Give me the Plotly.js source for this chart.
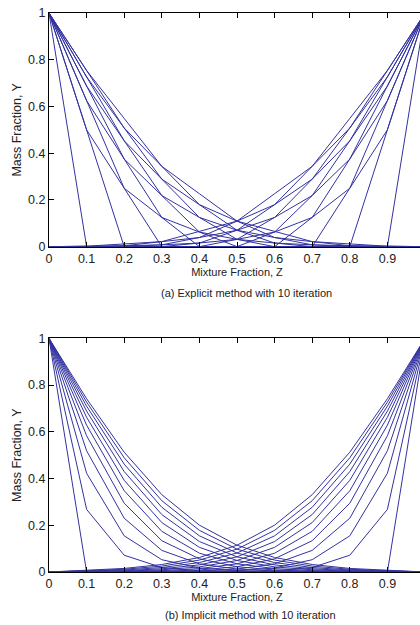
<!DOCTYPE html>
<html>
<head>
<meta charset="utf-8">
<script src="https://cdn.plot.ly/plotly-3.0.1.min.js"></script>
<style>
html,body{margin:0;padding:0;overflow:hidden;background:#fff;}
#chart{width:439px;height:625px;}
</style>
</head>
<body>
<div id="chart"></div>
<script>
// Mixture fraction grid
var mixtureFraction = [0, 0.1, 0.2, 0.3, 0.4, 0.5, 0.6, 0.7, 0.8, 0.9, 1];

// (a) Explicit method: profiles at iterations 0..10, fuel side (Y=1 at Z=0)
var explicitLeft = [
  [1, 0, 0, 0, 0, 0, 0, 0, 0, 0, 0],
  [1, 0.5, 0, 0, 0, 0, 0, 0, 0, 0, 0],
  [1, 0.5, 0.25, 0, 0, 0, 0, 0, 0, 0, 0],
  [1, 0.625, 0.25, 0.125, 0, 0, 0, 0, 0, 0, 0],
  [1, 0.625, 0.375, 0.125, 0.0625, 0, 0, 0, 0, 0, 0],
  [1, 0.6875, 0.375, 0.2188, 0.0625, 0.0313, 0, 0, 0, 0, 0],
  [1, 0.6875, 0.4531, 0.2188, 0.125, 0.0313, 0.0156, 0, 0, 0, 0],
  [1, 0.7266, 0.4531, 0.2891, 0.125, 0.0703, 0.0156, 0.0078, 0, 0, 0],
  [1, 0.7266, 0.5078, 0.2891, 0.1797, 0.0703, 0.0391, 0.0078, 0.0039, 0, 0],
  [1, 0.7539, 0.5078, 0.3438, 0.1797, 0.1094, 0.0391, 0.0215, 0.0039, 0.002, 0],
  [1, 0.7539, 0.5488, 0.3438, 0.2266, 0.1094, 0.0654, 0.0215, 0.0117, 0.002, 0]
];
// (a) Explicit method: oxidiser side (Y=1 at Z=1)
var explicitRight = [
  [0, 0, 0, 0, 0, 0, 0, 0, 0, 0, 1],
  [0, 0, 0, 0, 0, 0, 0, 0, 0, 0.5, 1],
  [0, 0, 0, 0, 0, 0, 0, 0, 0.25, 0.5, 1],
  [0, 0, 0, 0, 0, 0, 0, 0.125, 0.25, 0.625, 1],
  [0, 0, 0, 0, 0, 0, 0.0625, 0.125, 0.375, 0.625, 1],
  [0, 0, 0, 0, 0, 0.0313, 0.0625, 0.2188, 0.375, 0.6875, 1],
  [0, 0, 0, 0, 0.0156, 0.0313, 0.125, 0.2188, 0.4531, 0.6875, 1],
  [0, 0, 0, 0.0078, 0.0156, 0.0703, 0.125, 0.2891, 0.4531, 0.7266, 1],
  [0, 0, 0.0039, 0.0078, 0.0391, 0.0703, 0.1797, 0.2891, 0.5078, 0.7266, 1],
  [0, 0.002, 0.0039, 0.0215, 0.0391, 0.1094, 0.1797, 0.3438, 0.5078, 0.7539, 1],
  [0, 0.002, 0.0117, 0.0215, 0.0654, 0.1094, 0.2266, 0.3438, 0.5488, 0.7539, 1]
];

// (b) Implicit method: fuel side
var implicitLeft = [
  [1, 0, 0, 0, 0, 0, 0, 0, 0, 0, 0],
  [1, 0.2679, 0.0718, 0.0192, 0.0052, 0.0014, 0.0004, 0.0001, 0, 0, 0],
  [1, 0.4227, 0.1547, 0.0526, 0.0171, 0.0054, 0.0017, 0.0005, 0.0001, 0, 0],
  [1, 0.5189, 0.2302, 0.0925, 0.0348, 0.0125, 0.0043, 0.0014, 0.0005, 0.0001, 0],
  [1, 0.5830, 0.2944, 0.1340, 0.0565, 0.0225, 0.0086, 0.0031, 0.0011, 0.0003, 0],
  [1, 0.6285, 0.3478, 0.1741, 0.0805, 0.0350, 0.0145, 0.0057, 0.0022, 0.0007, 0],
  [1, 0.6623, 0.3924, 0.2115, 0.1055, 0.0493, 0.0219, 0.0093, 0.0037, 0.0013, 0],
  [1, 0.6886, 0.4298, 0.2458, 0.1304, 0.0649, 0.0306, 0.0137, 0.0058, 0.0021, 0],
  [1, 0.7097, 0.4616, 0.2770, 0.1548, 0.0812, 0.0404, 0.0191, 0.0085, 0.0032, 0],
  [1, 0.7271, 0.4889, 0.3052, 0.1782, 0.0979, 0.0510, 0.0252, 0.0117, 0.0045, 0],
  [1, 0.7417, 0.5126, 0.3309, 0.2005, 0.1146, 0.0621, 0.0320, 0.0153, 0.0061, 0]
];
// (b) Implicit method: oxidiser side
var implicitRight = [
  [0, 0, 0, 0, 0, 0, 0, 0, 0, 0, 1],
  [0, 0, 0, 0.0001, 0.0004, 0.0014, 0.0052, 0.0192, 0.0718, 0.2679, 1],
  [0, 0, 0.0001, 0.0005, 0.0017, 0.0054, 0.0171, 0.0526, 0.1547, 0.4227, 1],
  [0, 0.0001, 0.0005, 0.0014, 0.0043, 0.0125, 0.0348, 0.0925, 0.2302, 0.5189, 1],
  [0, 0.0003, 0.0011, 0.0031, 0.0086, 0.0225, 0.0565, 0.1340, 0.2944, 0.5830, 1],
  [0, 0.0007, 0.0022, 0.0057, 0.0145, 0.0350, 0.0805, 0.1741, 0.3478, 0.6285, 1],
  [0, 0.0013, 0.0037, 0.0093, 0.0219, 0.0493, 0.1055, 0.2115, 0.3924, 0.6623, 1],
  [0, 0.0021, 0.0058, 0.0137, 0.0306, 0.0649, 0.1304, 0.2458, 0.4298, 0.6886, 1],
  [0, 0.0032, 0.0085, 0.0191, 0.0404, 0.0812, 0.1548, 0.2770, 0.4616, 0.7097, 1],
  [0, 0.0045, 0.0117, 0.0252, 0.0510, 0.0979, 0.1782, 0.3052, 0.4889, 0.7271, 1],
  [0, 0.0061, 0.0153, 0.0320, 0.0621, 0.1146, 0.2005, 0.3309, 0.5126, 0.7417, 1]
];

var xTickVals = [0, 0.1, 0.2, 0.3, 0.4, 0.5, 0.6, 0.7, 0.8, 0.9];
var yTickVals = [0, 0.2, 0.4, 0.6, 0.8, 1];
var xTitle = 'Mixture Fraction, Z';
var yTitle = 'Mass Fraction, Y';
var captionA = '(a) Explicit method with 10 iteration';
var captionB = '(b) Implicit method with 10 iteration';

var lineColor = 'rgb(50,50,160)';
var traces = [];
function addFamily(family, xa, ya) {
  family.forEach(function (ys) {
    traces.push({
      x: mixtureFraction, y: ys, xaxis: xa, yaxis: ya,
      type: 'scatter', mode: 'lines',
      line: {color: lineColor, width: 1},
      hoverinfo: 'skip', showlegend: false
    });
  });
}
addFamily(explicitLeft, 'x', 'y');
addFamily(explicitRight, 'x', 'y');
addFamily(implicitLeft, 'x2', 'y2');
addFamily(implicitRight, 'x2', 'y2');

var font = {family: 'Liberation Sans, Arial, sans-serif', size: 11, color: '#222'};
var tickFont = {family: 'Liberation Sans, Arial, sans-serif', size: 12.5, color: '#222'};
var yTitleFont = {family: 'Liberation Sans, Arial, sans-serif', size: 12.5, color: '#222'};
function xAxis(anchor) {
  return {
    anchor: anchor, domain: [0, 1], range: [0, 1],
    tickvals: xTickVals, ticks: 'inside', ticklen: 5, tickwidth: 1, tickcolor: '#000',
    showline: true, linecolor: '#000', linewidth: 1, mirror: 'ticks',
    showgrid: false, zeroline: false, tickfont: tickFont,
    title: {text: xTitle, font: font, standoff: 2}
  };
}
function yAxis(anchor, domain) {
  return {
    anchor: anchor, domain: domain, range: [0, 1],
    tickvals: yTickVals, ticks: 'inside', ticklen: 5, tickwidth: 1, tickcolor: '#000',
    showline: true, linecolor: '#000', linewidth: 1, mirror: 'ticks',
    showgrid: false, zeroline: false, tickfont: tickFont,
    title: {text: yTitle, font: yTitleFont, standoff: 3}
  };
}

var layout = {
  width: 439, height: 625,
  margin: {l: 49, r: 14, t: 13, b: 53},
  paper_bgcolor: '#fff', plot_bgcolor: '#fff',
  showlegend: false,
  font: font,
  xaxis: xAxis('y'),
  yaxis: yAxis('x', [0.582, 1]),
  xaxis2: xAxis('y2'),
  yaxis2: yAxis('x2', [0, 0.418]),
  annotations: [
    {text: captionA, xref: 'paper', yref: 'paper', x: 0.525, y: 0.499,
     xanchor: 'center', yanchor: 'middle', showarrow: false, font: font},
    {text: captionB, xref: 'paper', yref: 'paper', x: 0.535, y: -0.077,
     xanchor: 'center', yanchor: 'middle', showarrow: false, font: font}
  ]
};

Plotly.newPlot('chart', traces, layout, {displayModeBar: false, staticPlot: true});
</script>
</body>
</html>
